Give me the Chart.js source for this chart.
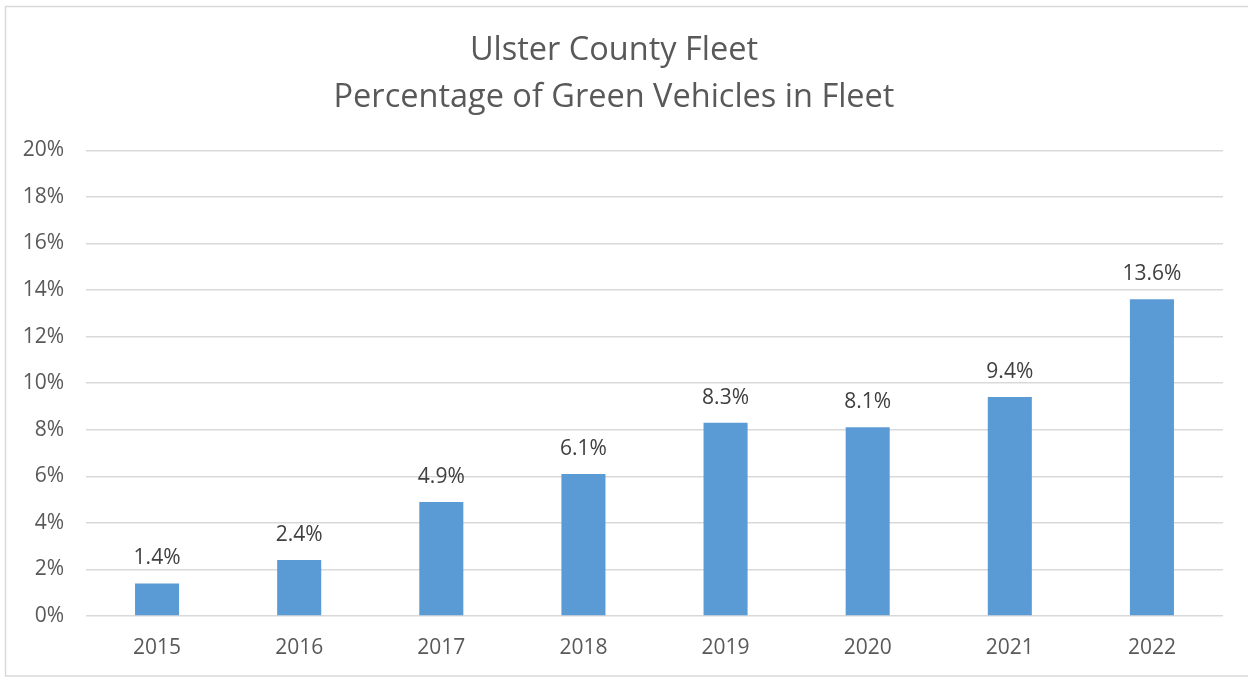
<!DOCTYPE html>
<html>
<head>
<meta charset="utf-8">
<script src="https://cdn.jsdelivr.net/npm/chart.js@4.4.1/dist/chart.umd.min.js"></script>
<style>
html,body{margin:0;padding:0;background:#fff;}
#wrap{position:absolute;left:0;top:0;width:1248px;height:677px;}
</style>
</head>
<body>
<div id="wrap"><canvas id="c" width="1248" height="677"></canvas></div>
<script>
const years = ['2015','2016','2017','2018','2019','2020','2021','2022'];
const greenPct = [1.4, 2.4, 4.9, 6.1, 8.3, 8.1, 9.4, 13.6];
const titleLines = ['Ulster County Fleet', 'Percentage of Green Vehicles in Fleet'];
const yMin = 0, yMax = 20, yStep = 2;

const FONT = "'Open Sans', 'Liberation Sans', sans-serif";

const frame = {
  id: 'frame',
  beforeDraw(chart) {
    const ctx = chart.ctx;
    ctx.save();
    ctx.fillStyle = '#ffffff';
    ctx.fillRect(0, 0, chart.width, chart.height);
    ctx.strokeStyle = '#d9d9d9';
    ctx.lineWidth = 1.5;
    ctx.beginPath();
    ctx.moveTo(chart.width + 5, 6.5);
    ctx.lineTo(5.5, 6.5);
    ctx.lineTo(5.5, 676);
    ctx.lineTo(chart.width + 5, 676);
    ctx.stroke();
    ctx.restore();
  }
};

const labels = {
  id: 'valueLabels',
  afterDatasetsDraw(chart) {
    const ctx = chart.ctx;
    const meta = chart.getDatasetMeta(0);
    ctx.save();
    ctx.font = "21px " + FONT;
    ctx.fillStyle = '#404040';
    ctx.textAlign = 'center';
    ctx.textBaseline = 'alphabetic';
    meta.data.forEach((bar, i) => {
      ctx.fillText(greenPct[i].toFixed(1) + '%', bar.x, bar.y - 19);
    });
    ctx.restore();
  }
};

new Chart(document.getElementById('c'), {
  type: 'bar',
  data: {
    labels: years,
    datasets: [{
      data: greenPct,
      backgroundColor: '#5b9bd5',
      borderWidth: 0,
      barPercentage: 0.31,
      categoryPercentage: 1.0
    }]
  },
  options: {
    responsive: false,
    animation: false,
    devicePixelRatio: 1,
    layout: { padding: { left: 5, right: 25, top: 0, bottom: 5 } },
    plugins: {
      legend: { display: false },
      tooltip: { enabled: false },
      title: {
        display: true,
        text: titleLines,
        color: '#595959',
        font: { family: FONT, size: 32.5, weight: 'normal', lineHeight: 1.45 },
        padding: { top: 27, bottom: 29 }
      }
    },
    scales: {
      x: {
        grid: { display: false, drawTicks: false },
        border: { display: false },
        ticks: { color: '#595959', font: { family: FONT, size: 21 }, padding: 19 },
        afterFit(s) { s.height = 56; }
      },
      y: {
        min: yMin, max: yMax,
        grid: { color: '#d9d9d9', lineWidth: 1.5, drawTicks: false },
        border: { display: false },
        ticks: {
          stepSize: yStep,
          color: '#595959',
          font: { family: FONT, size: 21 },
          padding: 22,
          callback: v => v + '%'
        },
        afterFit(s) { s.width = 81; }
      }
    }
  },
  plugins: [frame, labels]
});
</script>
</body>
</html>
